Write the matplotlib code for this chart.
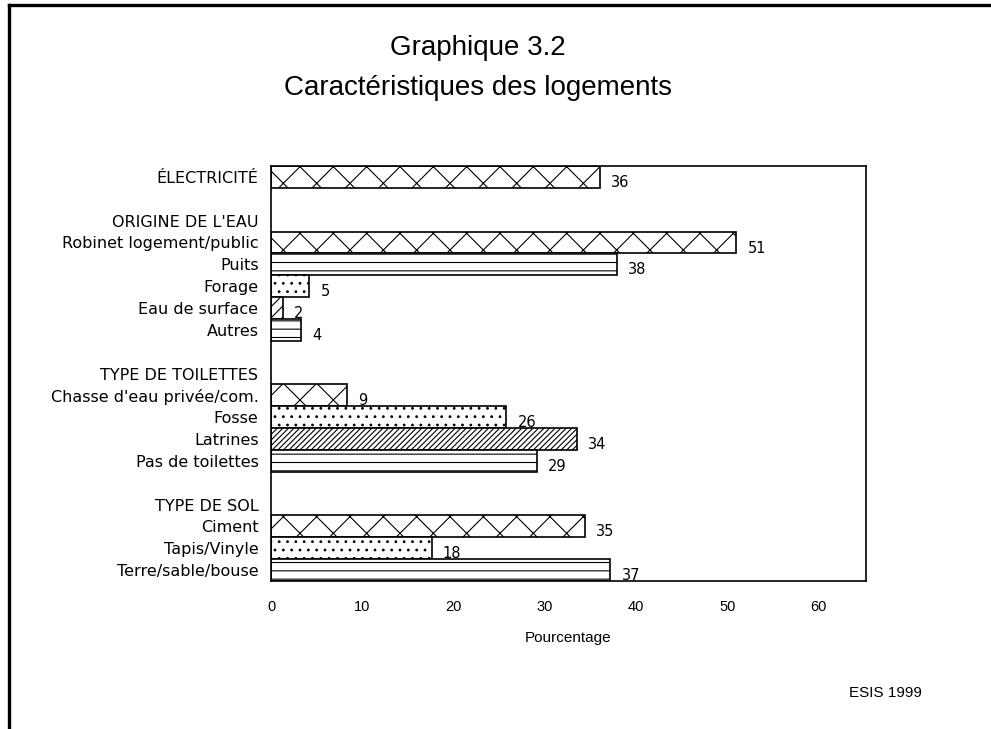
import matplotlib
matplotlib.use("Agg")
import matplotlib.pyplot as plt
from matplotlib.lines import Line2D

# ---------- DATA ----------
group_titles = ["ÉLECTRICITÉ", "ORIGINE DE L'EAU", "TYPE DE TOILETTES", "TYPE DE SOL"]
categories = [
    "ÉLECTRICITÉ",
    "Robinet logement/public", "Puits", "Forage", "Eau de surface", "Autres",
    "Chasse d'eau privée/com.", "Fosse", "Latrines", "Pas de toilettes",
    "Ciment", "Tapis/Vinyle", "Terre/sable/bouse",
]
category_group = [0, 1, 1, 1, 1, 1, 2, 2, 2, 2, 3, 3, 3]
pct = [36.0, 51.0, 37.9, 4.2, 1.3, 3.3, 8.3, 25.8, 33.5, 29.1, 34.4, 17.6, 37.2]
pct_labels = ["36", "51", "38", "5", "2", "4", "9", "26", "34", "29", "35", "18", "37"]
hatches = ["x", "x", "--", "..", "///", "--", "x", "..", "//////", "--", "x", "..", "--"]
x_ticks = [0, 10, 20, 30, 40, 50, 60]

LABEL_FONT = ["DejaVu Sans"]
NARROW = ["Liberation Sans Narrow", "Liberation Sans"]

plt.rcParams["hatch.linewidth"] = 0.8

fig = plt.figure(figsize=(9.91, 7.29), dpi=100)
ax = fig.add_axes([271 / 991, 1 - 581 / 729, 595 / 991, 415 / 729])

# ---------- SLOT LAYOUT ----------
bar_pos = []
tick_pos, tick_lab = [], []
slot = 0
prev_group = None
for cat, g in zip(categories, category_group):
    if g != prev_group:
        if g != 0:
            slot += 1  # blank row
            tick_pos.append(slot)
            tick_lab.append(group_titles[g])
            slot += 1
        prev_group = g
    bar_pos.append(slot)
    tick_pos.append(slot)
    tick_lab.append(cat)
    slot += 1
n_slots = slot

bars = ax.barh(bar_pos, pct, height=1.0, color="white", edgecolor="black",
               linewidth=1.2)
for b, h in zip(bars, hatches):
    b.set_hatch(h)

for y, v, lab in zip(bar_pos, pct, pct_labels):
    ax.annotate(lab, (v, y), xytext=(8, -4), textcoords="offset points",
                ha="left", va="center", fontsize=10.5, family=LABEL_FONT)

ax.set_xlim(0, 65.2)
ax.set_ylim(n_slots - 0.5, -0.5)
ax.set_xticks(x_ticks)
ax.set_xticklabels([str(t) for t in x_ticks], family=NARROW, fontsize=10.5)
ax.set_yticks(tick_pos)
ax.set_yticklabels(tick_lab, family=LABEL_FONT, fontsize=11.5)
ax.tick_params(axis="both", length=0)
ax.tick_params(axis="y", pad=9)
ax.tick_params(axis="x", pad=14)
for s in ax.spines.values():
    s.set_linewidth(1.2)

ax.set_xlabel("Pourcentage", family=NARROW, fontsize=11, labelpad=12)

# ---------- TITLES & NOTES ----------
fig.text(0.482, 1 - 48 / 729, "Graphique 3.2", ha="center", va="center",
         family=NARROW, fontsize=20)
fig.text(0.482, 1 - 88 / 729, "Caractéristiques des logements", ha="center",
         va="center", family=NARROW, fontsize=20)
fig.text(885 / 991, 1 - 693 / 729, "ESIS 1999", ha="center", va="center",
         family=NARROW, fontsize=11)

# page frame lines (top and left)
fig.add_artist(Line2D([8.5 / 991, 1], [1 - 4.5 / 729, 1 - 4.5 / 729],
                      color="black", linewidth=2.4, transform=fig.transFigure))
fig.add_artist(Line2D([8.5 / 991, 8.5 / 991], [1 - 4.5 / 729, 0],
                      color="black", linewidth=2.4, transform=fig.transFigure))

fig.savefig("out.png", dpi=100, facecolor="white")
